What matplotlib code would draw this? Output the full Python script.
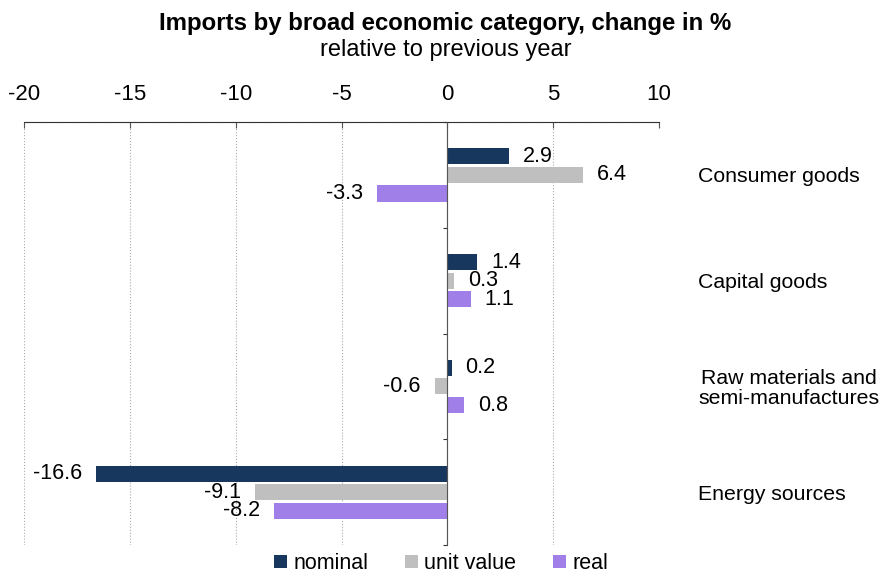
import matplotlib
matplotlib.use("Agg")
import matplotlib.pyplot as plt
import numpy as np

plt.rcParams['font.family'] = ['Liberation Sans', 'DejaVu Sans']

categories = ["Consumer goods", "Capital goods", "Raw materials and\nsemi-manufactures", "Energy sources"]
series_names = ["nominal", "unit value", "real"]
nominal = [2.9, 1.4, 0.2, -16.6]
unit_value = [6.4, 0.3, -0.6, -9.1]
real = [-3.3, 1.1, 0.8, -8.2]
xticks = [-20, -15, -10, -5, 0, 5, 10]
colors = ["#17375E", "#BFBFBF", "#A17FE8"]

fig = plt.figure(figsize=(8.82, 5.78), dpi=100)
ax = fig.add_axes([0.0272, 0.057, 0.72, 0.732])

n = len(categories)
ypos = np.arange(n)
h = 0.152
step = 0.176
data = [nominal, unit_value, real]
for i, (vals, name, c) in enumerate(zip(data, series_names, colors)):
    yy = ypos + (i - 1) * step
    ax.barh(yy, vals, height=h, color=c, label=name)
    for y, v in zip(yy, vals):
        off = 14 if v >= 0 else -14
        ax.annotate(f"{v:.1f}", (v, y), xytext=(off, 0), textcoords='offset pixels',
                    ha='left' if v >= 0 else 'right', va='center', fontsize=15.5, color='black')

ax.set_xlim(-20, 10)
ax.set_ylim(n - 0.5, -0.5)
ax.set_xticks(xticks)
ax.set_xticklabels([str(t) for t in xticks])
ax.xaxis.tick_top()
ax.tick_params(axis='x', direction='in', length=4, width=0.8, color='#555555', labelsize=16, pad=12)
ax.grid(axis='x', linestyle=':', color='#AAAAAA', linewidth=0.8)
ax.set_axisbelow(True)

ax.spines['right'].set_visible(False)
ax.spines['bottom'].set_visible(False)
ax.spines['top'].set_linestyle((0, (1, 0.6)))
ax.spines['top'].set_color('#333333')
ax.spines['top'].set_linewidth(0.8)
ax.spines['left'].set_position(('data', 0))
ax.spines['left'].set_linestyle((0, (1, 0.6)))
ax.spines['left'].set_color('#555555')
ax.spines['left'].set_linewidth(0.8)
ax.spines['left'].set_zorder(5)
ax.set_yticks(np.arange(n + 1) - 0.5)
ax.set_yticklabels([])
ax.tick_params(axis='y', direction='out', length=3, width=0.8, color='#333333')

for y, cat in zip(ypos, categories):
    ax.text(1.0 + 39 / 635, y + 0.02, cat, transform=ax.get_yaxis_transform(), ha='left', va='center',
            multialignment='center', fontsize=15.3, linespacing=1.1)

fig.text(0.505, 0.959, "Imports by broad economic category, change in %", ha='center', va='center',
         fontsize=17.3, fontweight='bold')
fig.text(0.505, 0.914, "relative to previous year", ha='center', va='center', fontsize=17)

fig.legend(loc='lower center', bbox_to_anchor=(0.5, -0.027), ncol=3, frameon=False, fontsize=15.5,
           handlelength=0.6, handleheight=0.6, handletextpad=0.3, columnspacing=1.7)

fig.savefig("out.png", dpi=100)
